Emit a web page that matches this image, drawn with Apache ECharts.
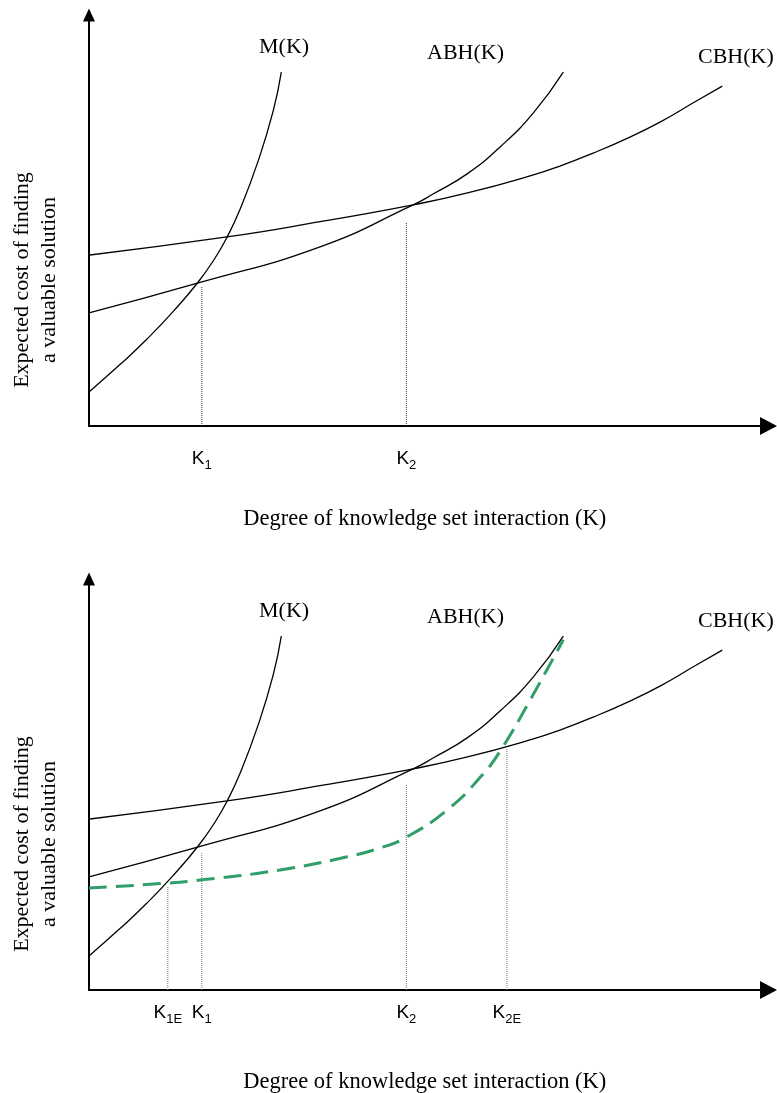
<!DOCTYPE html>
<html>
<head>
<meta charset="utf-8">
<script src="https://cdn.jsdelivr.net/npm/echarts@6/dist/echarts.min.js"></script>
<style>
html,body{margin:0;padding:0;background:#fff;}
#chart{width:777px;height:1093px;}
</style>
</head>
<body>
<div id="chart"></div>
<script>
// ---- data (arbitrary units: x 0..100, y 0..100) ----
const M_x   = [0, 4.6, 8.5, 12.4, 16.1, 18.6, 20.3, 22.2, 24.9, 27.1, 28.3];
const M_y   = [8.3, 15.0, 21.1, 27.9, 35.1, 41.0, 45.9, 52.6, 64.5, 76.6, 86.1];
const ABH_x = [0, 16.1, 34.0, 47.7, 50.7, 55.7, 60.5, 65.4, 69.8];
const ABH_y = [27.5, 34.8, 43.6, 53.8, 56.5, 61.4, 67.9, 76.2, 86.1];
const CBH_x = [-0.9, 20.3, 34.0, 47.7, 55.7, 65.4, 69.4, 74.2, 79.2, 84.1, 89.0, 93.2];
const CBH_y = [41.4, 46.0, 49.7, 53.8, 56.7, 61.1, 63.3, 66.4, 70.0, 74.0, 78.7, 82.7];
const E_x   = [0, 11.5, 16.6, 28.1, 38.0, 42.9, 46.5, 52.7, 57.6, 60.8, 65.0, 69.8];
const E_y   = [24.8, 26.0, 26.8, 29.2, 32.4, 34.6, 37.0, 43.8, 51.8, 58.9, 70.8, 85.2];

const ticks1      = [16.6, 46.7];
const tickSub1    = ['1', '2'];
const dropTop1    = [33.8, 49.6];
const ticks2      = [11.6, 16.6, 46.7, 61.5];
const tickSub2    = ['1E', '1', '2', '2E'];
const dropTop2    = [25.1, 33.3, 49.9, 58.9];

const curveNames  = ['M(K)', 'ABH(K)', 'CBH(K)'];
const yTitle      = 'Expected cost of finding\na valuable solution';
const xTitle      = 'Degree of knowledge set interaction (K)';

// ---- helpers ----
const zip = (xs, ys) => xs.map((x, i) => [x, ys[i]]);
const serif = '"Liberation Serif", "Times New Roman", serif';
const sans = '"Liberation Sans", Arial, sans-serif';

function curve(idx, xs, ys, color, width, type) {
  return {
    type: 'line', xAxisIndex: idx, yAxisIndex: idx,
    data: zip(xs, ys), symbol: 'none', smooth: 0.5,
    clip: false, silent: true,
    lineStyle: { color: color, width: width, type: type || 'solid' },
    z: 3
  };
}
function drops(idx, ticks, tops, color) {
  return ticks.map((t, i) => ({
    type: 'line', xAxisIndex: idx, yAxisIndex: idx,
    data: [[t, 0], [t, tops[i]]], symbol: 'none', silent: true, clip: false,
    lineStyle: { color: color, width: 1, type: 'dotted' }, z: 2
  }));
}
function xAxisDef(idx, ticks, subs, margin, gap) {
  return {
    type: 'value', gridIndex: idx, min: 0, max: 100,
    splitLine: { show: false },
    axisTick: { show: false },
    axisLine: { show: true, symbol: ['none', 'triangle'], symbolSize: [18, 17],
                lineStyle: { color: '#000', width: 2 } },
    axisLabel: {
      customValues: ticks, margin: margin, color: '#000', fontSize: 19, fontFamily: sans,
      formatter: function (v) {
        let best = 0;
        ticks.forEach((t, i) => { if (Math.abs(t - v) < Math.abs(ticks[best] - v)) best = i; });
        return '{k|K}{s|' + subs[best] + '}';
      },
      rich: {
        k: { fontFamily: sans, fontSize: 19, color: '#000', lineHeight: 22 },
        s: { fontFamily: sans, fontSize: 13, color: '#000', padding: [12, 0, 0, 0], lineHeight: 13 }
      }
    },
    name: xTitle, nameLocation: 'middle', nameGap: gap,
    nameTextStyle: { fontFamily: serif, fontSize: 22.5, color: '#000', padding: [0, 8, 0, 0] }
  };
}
function yAxisDef(idx) {
  return {
    type: 'value', gridIndex: idx, min: 0, max: 100,
    splitLine: { show: false }, axisTick: { show: false }, axisLabel: { show: false },
    axisLine: { show: true, symbol: ['none', 'triangle'], symbolSize: [12, 13],
                lineStyle: { color: '#000', width: 2 } }
  };
}
function txt(x, y, text) {
  return {
    type: 'text', x: x, y: y, silent: true,
    style: {
      text: text, fontFamily: serif, fontSize: 22, fill: '#000',
      align: 'left', verticalAlign: 'middle', textAlign: 'left', textVerticalAlign: 'middle'
    }
  };
}

const chart = echarts.init(document.getElementById('chart'), null, { renderer: 'canvas' });
const PANEL_SHIFT = 564;

const graphics = [];
[0, PANEL_SHIFT].forEach(off => {
  graphics.push(txt(259, 47 + off, curveNames[0]));
  graphics.push(txt(427, 53 + off, curveNames[1]));
  graphics.push(txt(698, 57 + off, curveNames[2]));
  graphics.push({
    type: 'text', x: 36, y: 280 + off, rotation: Math.PI / 2, silent: true,
    style: { text: yTitle, fontFamily: serif, fontSize: 22, fill: '#000', lineHeight: 27,
             align: 'center', verticalAlign: 'middle', textAlign: 'center', textVerticalAlign: 'middle' }
  });
});

const option = {
  animation: false,
  backgroundColor: '#fff',
  grid: [
    { left: 89, right: 8.5, top: 15, bottom: 667, outerBoundsMode: 'none', containLabel: false },
    { left: 89, right: 8.5, top: 579, bottom: 103, outerBoundsMode: 'none', containLabel: false }
  ],
  xAxis: [xAxisDef(0, ticks1, tickSub1, 22, 82), xAxisDef(1, ticks2, tickSub2, 12, 81)],
  yAxis: [yAxisDef(0), yAxisDef(1)],
  graphic: graphics,
  series: [
    curve(0, M_x, M_y, '#000', 1.3),
    curve(0, ABH_x, ABH_y, '#000', 1.3),
    curve(0, CBH_x, CBH_y, '#000', 1.3),
    ...drops(0, ticks1, dropTop1, '#333'),
    curve(1, M_x, M_y, '#000', 1.3),
    curve(1, ABH_x, ABH_y, '#000', 1.3),
    curve(1, CBH_x, CBH_y, '#000', 1.3),
    curve(1, E_x, E_y, '#2f9e68', 3, [18, 9]),
    ...drops(1, ticks2, dropTop2, '#777')
  ]
};
chart.setOption(option);
</script>
</body>
</html>
